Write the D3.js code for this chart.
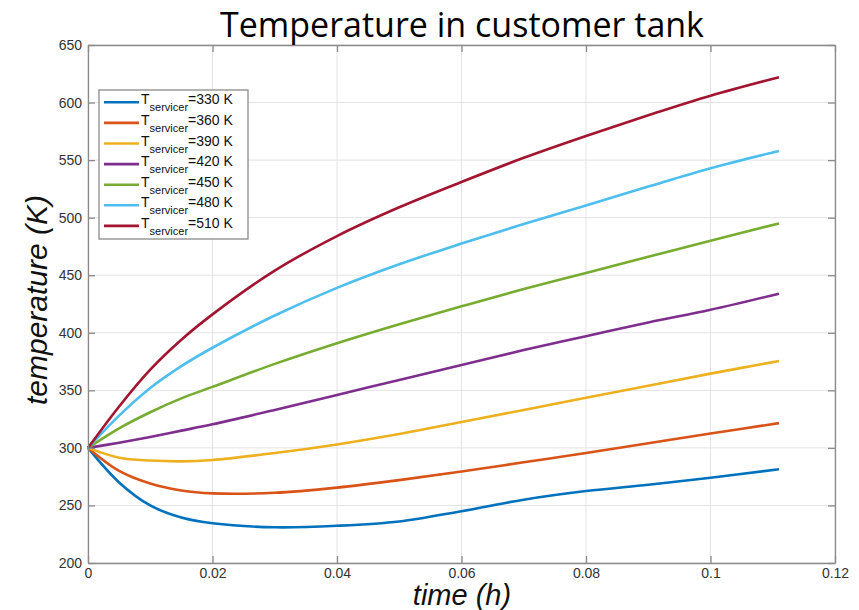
<!DOCTYPE html>
<html>
<head>
<meta charset="utf-8">
<script src="https://cdn.jsdelivr.net/npm/d3@7"></script>
<style>
  body { margin: 0; background: #fff; }
  text { font-family: "Liberation Sans", Arial, sans-serif; }
</style>
</head>
<body>
<div id="chart"></div>
<script>
// time samples (h)
var times = [0, 0.005, 0.01, 0.015, 0.02, 0.03, 0.04, 0.05, 0.06, 0.07, 0.08, 0.09, 0.1, 0.111];
// servicer temperatures (K), one series each
var servicerTemps = [330, 360, 390, 420, 450, 480, 510];
var t330 = [300, 270, 250, 239.5, 234.5, 231, 232.3, 236, 245, 255, 262.5, 268, 274, 281.5];
var t360 = [300, 280, 269, 263, 260.5, 261, 265.5, 272, 279.5, 287.5, 295.5, 304, 312.5, 321.5];
var t390 = [300, 291.5, 289, 288.3, 289.5, 295.5, 303, 312, 322.5, 333, 343.5, 354, 364.5, 375.5];
var t420 = [300, 304.5, 309.5, 315, 320.5, 333, 346, 359, 372, 385, 397, 409, 420, 434];
var t450 = [300, 317, 331, 343, 353, 373, 391, 407.5, 423, 438, 452, 466, 480, 495];
var t480 = [300, 328, 352, 371, 387, 415, 439, 459.5, 477.5, 494.5, 510.5, 527, 543, 558];
var t510 = [300, 336, 368, 394, 416, 454, 484, 509, 531, 552, 571, 589, 606, 622];
var seriesValues = [t330, t360, t390, t420, t450, t480, t510];
var colors = ["#0072BD", "#D95319", "#EDB120", "#7E2F8E", "#77AC30", "#4DBEEE", "#A2142F"];
var xTicks = [0, 0.02, 0.04, 0.06, 0.08, 0.1, 0.12];
var yTicks = [200, 250, 300, 350, 400, 450, 500, 550, 600, 650];

var width = 859, height = 610;
var pLeft = 88, pRight = 835, pTop = 45, pBottom = 563;

var svg = d3.select("#chart").append("svg").attr("width", width).attr("height", height);

var xScale = d3.scaleLinear().domain([0, 0.12]).range([pLeft, pRight]);
var yScale = d3.scaleLinear().domain([200, 650]).range([pBottom, pTop]);

// grid
svg.append("g").selectAll("line.gx").data(xTicks).enter().append("line")
   .attr("x1", d => xScale(d)).attr("x2", d => xScale(d))
   .attr("y1", pTop).attr("y2", pBottom)
   .attr("stroke", "#e3e3e3").attr("stroke-width", 1);
svg.append("g").selectAll("line.gy").data(yTicks).enter().append("line")
   .attr("x1", pLeft).attr("x2", pRight)
   .attr("y1", d => yScale(d)).attr("y2", d => yScale(d))
   .attr("stroke", "#e3e3e3").attr("stroke-width", 1);

// curves
var line = d3.line().curve(d3.curveCatmullRom.alpha(0.5))
   .x((d, i) => xScale(times[i]))
   .y(d => yScale(d));
svg.append("g").selectAll("path").data(seriesValues).enter().append("path")
   .attr("d", d => line(d))
   .attr("fill", "none")
   .attr("stroke", (d, i) => colors[i])
   .attr("stroke-width", 2.6);

// axes, matlab style box with inward ticks
var tickLen = 7;
var axisColor = "#8a8a8a";
var xAxis = d3.axisBottom(xScale).tickValues(xTicks).tickFormat(d3.format("~g")).tickSizeInner(-tickLen).tickSizeOuter(0).tickPadding(5);
var yAxis = d3.axisLeft(yScale).tickValues(yTicks).tickSizeInner(-tickLen).tickSizeOuter(0).tickPadding(6);
var xTop = d3.axisTop(xScale).tickValues(xTicks).tickFormat("").tickSizeInner(-tickLen).tickSizeOuter(0);
var yRight = d3.axisRight(yScale).tickValues(yTicks).tickFormat("").tickSizeInner(-tickLen).tickSizeOuter(0);

var gx = svg.append("g").attr("transform", "translate(0," + pBottom + ")").call(xAxis);
var gy = svg.append("g").attr("transform", "translate(" + pLeft + ",0)").call(yAxis);
var gt = svg.append("g").attr("transform", "translate(0," + pTop + ")").call(xTop);
var gr = svg.append("g").attr("transform", "translate(" + pRight + ",0)").call(yRight);
[gx, gy, gt, gr].forEach(function(g) {
  g.select(".domain").attr("stroke", axisColor).attr("stroke-width", 1.3);
  g.selectAll(".tick line").attr("stroke", axisColor).attr("stroke-width", 1.3);
  g.selectAll(".tick text").attr("fill", "#333").style("font-size", "14px");
});

// title and labels
svg.append("text").attr("x", 462).attr("y", 37).attr("text-anchor", "middle")
   .style("font-family", "'Open Sans', sans-serif").style("font-size", "34px").attr("fill", "#000")
   .text("Temperature in customer tank");
svg.append("text").attr("x", 462).attr("y", 605).attr("text-anchor", "middle")
   .style("font-size", "29px").style("font-style", "italic").attr("fill", "#111")
   .text("time (h)");
svg.append("text").attr("transform", "translate(47,300) rotate(-90)").attr("text-anchor", "middle")
   .style("font-size", "30px").style("font-style", "italic").attr("fill", "#111")
   .text("temperature (K)");

// legend
var lg = svg.append("g");
lg.append("rect").attr("x", 99).attr("y", 90).attr("width", 149).attr("height", 149)
   .attr("fill", "#fff").attr("stroke", axisColor).attr("stroke-width", 1.3);
var rows = lg.selectAll("g.row").data(servicerTemps).enter().append("g")
   .attr("transform", (d, i) => "translate(0," + (102.3 + i * 20.6) + ")");
rows.append("line").attr("x1", 104).attr("x2", 139).attr("y1", 0).attr("y2", 0)
   .attr("stroke", (d, i) => colors[i]).attr("stroke-width", 2.6);
var lt = rows.append("text").attr("x", 141).attr("y", 2).attr("fill", "#111").style("font-size", "14px");
lt.append("tspan").text("T");
lt.append("tspan").attr("dy", 7).style("font-size", "11px").text("servicer");
lt.append("tspan").attr("dy", -7).text(d => "=" + d + " K");
</script>
</body>
</html>
